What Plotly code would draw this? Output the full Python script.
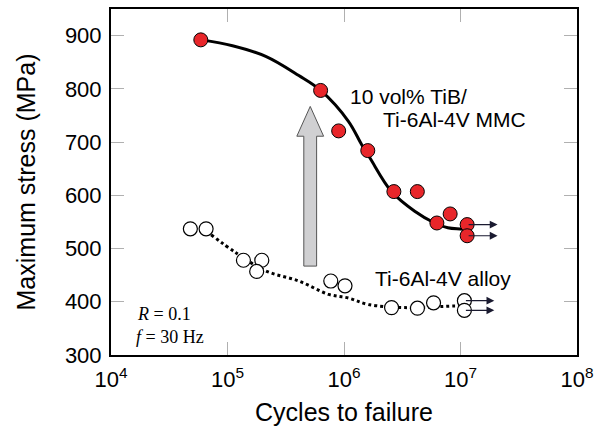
import numpy as np
import plotly.graph_objects as go

# ---- data ----
mmc_cycles = [5.9e4, 6.3e5, 9.0e5, 1.6e6, 2.68e6, 4.26e6, 6.27e6, 8.15e6, 1.14e7, 1.14e7]
mmc_stress = [892, 797, 721, 684, 607, 607, 548, 565, 545, 524]

ti_cycles = [4.8e4, 6.55e4, 1.37e5, 1.97e5, 1.78e5, 7.7e5, 1.02e6, 2.56e6, 4.27e6, 5.87e6, 1.08e7, 1.08e7]
ti_stress = [537, 537, 478, 478, 457, 439, 430, 389, 388, 398, 402, 384]

mmc_fit_logN = [4.774, 5.043, 5.328, 5.612, 5.80, 6.038, 6.152, 6.223, 6.408, 6.607, 6.778, 6.891, 7.09]
mmc_fit_stress = [892, 881, 861, 825, 797, 739, 695, 670, 607, 570, 548, 539, 536]

ti_fit_logN = [4.859, 5.072, 5.328, 5.612, 5.868, 6.038, 6.209, 6.522, 6.948, 7.034]
ti_fit_stress = [526, 492, 458, 439, 414, 407, 395, 389, 392, 392]

# run-out arrows (start index into data, end cycles)
mmc_runout_idx = [8, 9]
ti_runout_idx = [10, 11]
runout_end_logN = 7.318
ti_runout_end_logN = 7.29

# big gray arrow (log cycles, stress)
garrow_logN = 5.71
garrow_base = 467
garrow_tip = 767
garrow_shaft_hw = 0.055
garrow_head_hw = 0.115
garrow_head_len = 56

x_tickvals = [1e4, 1e5, 1e6, 1e7, 1e8]
x_ticktext = ["10<sup>4</sup>", "10<sup>5</sup>", "10<sup>6</sup>", "10<sup>7</sup>", "10<sup>8</sup>"]
y_tickvals = [300, 400, 500, 600, 700, 800, 900]

fig = go.Figure()

# gray arrow polygon
ax_pts = [garrow_logN - garrow_shaft_hw, garrow_logN - garrow_shaft_hw, garrow_logN - garrow_head_hw,
          garrow_logN, garrow_logN + garrow_head_hw, garrow_logN + garrow_shaft_hw,
          garrow_logN + garrow_shaft_hw, garrow_logN - garrow_shaft_hw]
ay_pts = [garrow_base, garrow_tip - garrow_head_len, garrow_tip - garrow_head_len, garrow_tip,
          garrow_tip - garrow_head_len, garrow_tip - garrow_head_len, garrow_base, garrow_base]
fig.add_trace(go.Scatter(x=[10 ** v for v in ax_pts], y=ay_pts, mode="lines", fill="toself",
                         fillcolor="#d0d0d2", line=dict(color="#555555", width=1),
                         hoverinfo="skip", showlegend=False))

# fits
fig.add_trace(go.Scatter(x=[10 ** v for v in mmc_fit_logN], y=mmc_fit_stress, mode="lines",
                         line=dict(color="black", width=3, shape="spline", smoothing=1.0),
                         showlegend=False))
fig.add_trace(go.Scatter(x=[10 ** v for v in ti_fit_logN], y=ti_fit_stress, mode="lines",
                         line=dict(color="black", width=3, dash="dot", shape="spline", smoothing=1.0),
                         showlegend=False))

# run-out arrows
for i in mmc_runout_idx:
    fig.add_annotation(x=runout_end_logN, y=mmc_stress[i], ax=np.log10(mmc_cycles[i]), ay=mmc_stress[i],
                       xref="x", yref="y", axref="x", ayref="y", showarrow=True, arrowhead=2,
                       arrowsize=1.3, arrowwidth=1.2, arrowcolor="#1a1a30", text="")
for i in ti_runout_idx:
    fig.add_annotation(x=ti_runout_end_logN, y=ti_stress[i], ax=np.log10(ti_cycles[i]), ay=ti_stress[i],
                       xref="x", yref="y", axref="x", ayref="y", showarrow=True, arrowhead=2,
                       arrowsize=1.3, arrowwidth=1.2, arrowcolor="#1a1a30", text="")

# markers
fig.add_trace(go.Scatter(x=ti_cycles, y=ti_stress, mode="markers",
                         marker=dict(size=14, color="white", line=dict(color="black", width=1.2)),
                         showlegend=False))
fig.add_trace(go.Scatter(x=mmc_cycles, y=mmc_stress, mode="markers",
                         marker=dict(size=14, color="#e8262a", line=dict(color="black", width=1)),
                         showlegend=False))

txt_font = dict(family="Liberation Sans, Arial, sans-serif", size=21, color="black")
fig.add_annotation(x=6.038, y=786, xref="x", yref="y", text="10 vol% TiB/", showarrow=False,
                   xanchor="left", yanchor="middle", font=txt_font)
fig.add_annotation(x=6.32, y=742, xref="x", yref="y", text="Ti-6Al-4V MMC", showarrow=False,
                   xanchor="left", yanchor="middle", font=txt_font)
fig.add_annotation(x=6.252, y=444, xref="x", yref="y", text="Ti-6Al-4V alloy", showarrow=False,
                   xanchor="left", yanchor="middle", font=txt_font)

serif = dict(family="Liberation Serif, Times New Roman, serif", size=18, color="black")
fig.add_annotation(x=4.21, y=377, xref="x", yref="y", text="<i>R</i> = 0.1", showarrow=False,
                   xanchor="left", yanchor="middle", font=serif)
fig.add_annotation(x=4.20, y=334, xref="x", yref="y", text="<i>f</i> = 30 Hz", showarrow=False,
                   xanchor="left", yanchor="middle", font=serif)

axis_common = dict(showline=True, linecolor="black", linewidth=2, mirror="ticks",
                   ticks="inside", ticklen=13, tickwidth=1, tickcolor="#b0b0b0",
                   showgrid=False, zeroline=False,
                   tickfont=dict(family="Liberation Sans, Arial, sans-serif", size=22, color="black"))

fig.update_xaxes(type="log", range=[4, 8], tickvals=x_tickvals, ticktext=x_ticktext,
                 ticklabelstandoff=4,
                 title=dict(text="Cycles to failure", standoff=12,
                            font=dict(family="Liberation Sans, Arial, sans-serif", size=25, color="black")),
                 **axis_common)
fig.update_yaxes(range=[300, 950], tickvals=y_tickvals, ticklabelstandoff=3,
                 title=dict(text="Maximum stress (MPa)", standoff=22,
                            font=dict(family="Liberation Sans, Arial, sans-serif", size=25, color="black")),
                 **axis_common)

fig.update_layout(width=601, height=430, margin=dict(l=111, r=21, t=7, b=75),
                  paper_bgcolor="white", plot_bgcolor="white", showlegend=False)

fig.write_html("out.html")
